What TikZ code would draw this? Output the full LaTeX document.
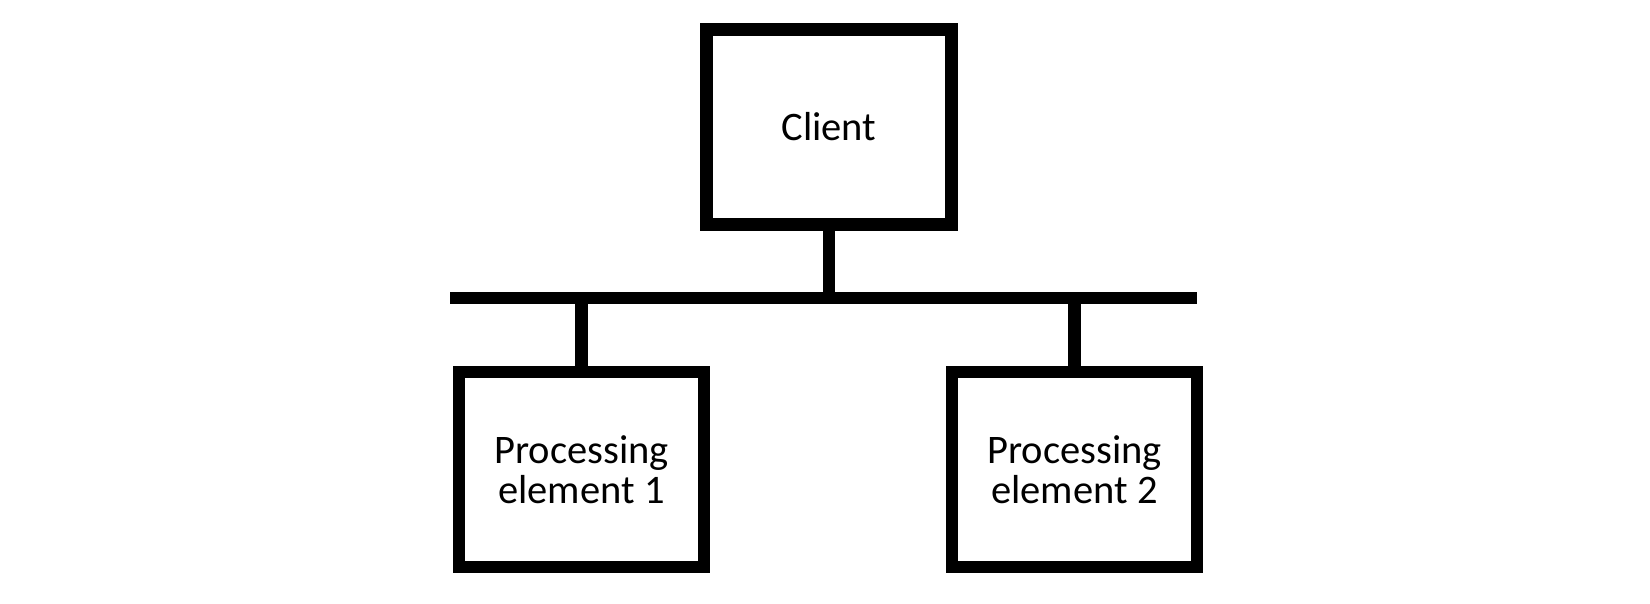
\documentclass[tikz,border=0pt]{standalone}
\usepackage{fontspec}
\setmainfont{Carlito}
\begin{document}
\begin{tikzpicture}[x=1pt,y=-1pt,
  box/.style={draw=black, line width=12.5pt, minimum width=245pt, minimum height=195pt, inner sep=0pt, align=center, font=\fontsize{40.5}{40}\selectfont},
  wire/.style={draw=black, line width=12.5pt, line cap=butt}]
\fill[white] (0,0) rectangle (1650,603);
\useasboundingbox (0,0) rectangle (1650,603);
\node[box] (client) at (829,127) {Client};
\node[box] (pe1) at (581.5,469.5) {Processing\\element 1};
\node[box] (pe2) at (1074.5,469.5) {Processing\\element 2};
\coordinate (busL) at (450,298);
\coordinate (busR) at (1197,298);
\draw[wire] (busL) -- (busR);
\draw[wire] (client.south) -- (client.south |- busL);
\draw[wire] (pe1.north) -- (pe1.north |- busL);
\draw[wire] (pe2.north) -- (pe2.north |- busL);
\end{tikzpicture}
\end{document}
